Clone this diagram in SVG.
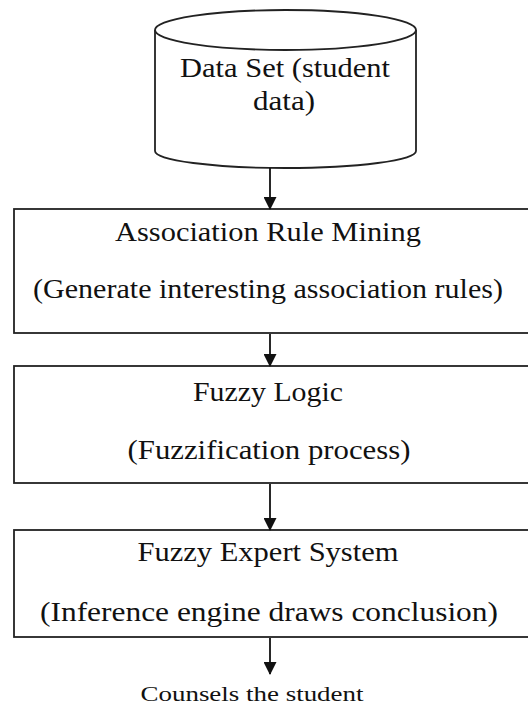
<svg xmlns="http://www.w3.org/2000/svg" width="528" height="708" viewBox="0 0 528 708">
<style>
.sh{fill:#fff;stroke:#222;stroke-width:1.8}
.t{font-family:"Liberation Serif","Times New Roman",serif;font-size:27px;fill:#111;text-anchor:middle}
.c{stroke:#111;stroke-width:1.8;fill:none}
</style>
<defs>
<marker id="ah" markerWidth="13" markerHeight="13" refX="12" refY="6.5" orient="auto" markerUnits="userSpaceOnUse">
<path d="M0,0 L13,6.5 L0,13 z" fill="#111"/>
</marker>
</defs>
<rect width="528" height="708" fill="#fff"/>
<g id="dataset">
<path class="sh" d="M155,30 L155,151 A130.5,17 0 0 0 416,151 L416,30"/>
<ellipse class="sh" cx="285.5" cy="30" rx="130.5" ry="20"/>
<text class="t" x="285" y="77" textLength="210" lengthAdjust="spacingAndGlyphs">Data Set (student</text>
<text class="t" x="284" y="110" textLength="62" lengthAdjust="spacingAndGlyphs">data)</text>
</g>
<g id="arm">
<rect class="sh" x="14" y="209" width="530" height="124"/>
<text class="t" x="268" y="241" textLength="306" lengthAdjust="spacingAndGlyphs">Association Rule Mining</text>
<text class="t" x="268" y="298" textLength="470" lengthAdjust="spacingAndGlyphs">(Generate interesting association rules)</text>
</g>
<g id="fuzzy">
<rect class="sh" x="14" y="366" width="530" height="117"/>
<text class="t" x="268" y="401" textLength="150" lengthAdjust="spacingAndGlyphs">Fuzzy Logic</text>
<text class="t" x="269" y="459" textLength="283" lengthAdjust="spacingAndGlyphs">(Fuzzification process)</text>
</g>
<g id="fes">
<rect class="sh" x="14" y="530" width="530" height="107"/>
<text class="t" x="268" y="561" textLength="261" lengthAdjust="spacingAndGlyphs">Fuzzy Expert System</text>
<text class="t" x="269" y="621" textLength="458" lengthAdjust="spacingAndGlyphs">(Inference engine draws conclusion)</text>
</g>
<g id="output">
<text class="t" x="252" y="701" style="font-size:21px" textLength="223" lengthAdjust="spacingAndGlyphs">Counsels the student</text>
</g>
<g id="connectors">
<line class="c" x1="270" y1="168" x2="270" y2="209" marker-end="url(#ah)"/>
<line class="c" x1="270" y1="334" x2="270" y2="366" marker-end="url(#ah)"/>
<line class="c" x1="270" y1="484" x2="270" y2="530" marker-end="url(#ah)"/>
<line class="c" x1="270" y1="638" x2="270" y2="674" marker-end="url(#ah)"/>
</g>
</svg>
